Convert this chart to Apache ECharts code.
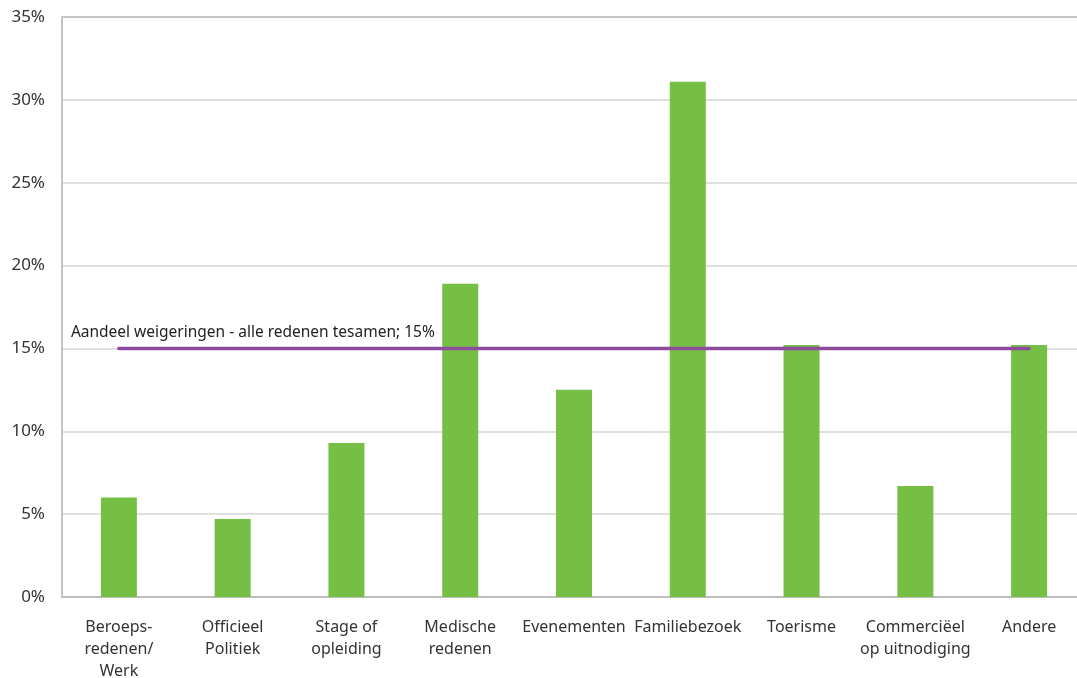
<!DOCTYPE html>
<html>
<head>
<meta charset="utf-8">
<script src="https://cdn.jsdelivr.net/npm/echarts@6/dist/echarts.min.js"></script>
<style>
  html, body { margin: 0; padding: 0; background: #fff; overflow: hidden; }
  /* the plot runs slightly past the right edge of the page */
  #chart { width: 1086px; height: 678px; }
</style>
</head>
<body>
<div id="chart"></div>
<script>
// Reasons for visa refusals (share per reason)
const categories = [
  'Beroeps-\nredenen/\nWerk',
  'Officieel\nPolitiek',
  'Stage of\nopleiding',
  'Medische\nredenen',
  'Evenementen',
  'Familiebezoek',
  'Toerisme',
  'Commerciëel\nop uitnodiging',
  'Andere'
];
const refusalShare = [6.0, 4.7, 9.3, 18.9, 12.5, 31.1, 15.2, 6.7, 15.2];
// Overall share across all reasons
const overallShare = 15;
const overallLabel = 'Aandeel weigeringen - alle redenen tesamen; 15%';
const yTicks = [0, 5, 10, 15, 20, 25, 30, 35];

const overallLine = categories.map(() => overallShare);
// light grid lines, with a darker border line at the top of the plot
const gridColors = yTicks.map((t, i) => i === yTicks.length - 1 ? '#c4c4c4' : '#e0e0e0');

const font = '"Noto Sans", sans-serif';
const chart = echarts.init(document.getElementById('chart'), null, { renderer: 'canvas' });
chart.setOption({
  animation: false,
  grid: { left: 62, right: 0, top: 17, bottom: 81, containLabel: false, outerBoundsMode: 'none' },
  xAxis: {
    type: 'category',
    data: categories,
    axisLine: { lineStyle: { color: '#bdbdbd', width: 2 } },
    axisTick: { show: false },
    axisLabel: { color: '#333', fontFamily: font, fontSize: 16, lineHeight: 22, margin: 19, interval: 0 }
  },
  yAxis: {
    type: 'value',
    min: yTicks[0],
    max: yTicks[yTicks.length - 1],
    interval: 5,
    axisLine: { show: true, lineStyle: { color: '#c4c4c4', width: 2 } },
    axisTick: { show: false },
    axisLabel: { color: '#333', fontFamily: font, fontSize: 17, margin: 17, formatter: v => v + '%' },
    splitLine: { lineStyle: { color: gridColors, width: 2 } }
  },
  series: [
    {
      type: 'bar',
      data: refusalShare,
      barWidth: 36,
      itemStyle: { color: '#74bf44' }
    },
    {
      type: 'line',
      data: overallLine.map((v, i) => i === 0 ? {
        value: v,
        label: {
          show: true,
          formatter: overallLabel,
          position: 'top',
          align: 'left',
          offset: [-48, -2],
          color: '#222',
          fontFamily: font,
          fontSize: 15.5
        }
      } : v),
      showSymbol: true,
      symbol: 'circle',
      symbolSize: 1,
      itemStyle: { color: '#8e4a9d' },
      lineStyle: { color: '#8e4a9d', width: 3.5, cap: 'round' },
      z: 5
    }
  ]
});
</script>
</body>
</html>
